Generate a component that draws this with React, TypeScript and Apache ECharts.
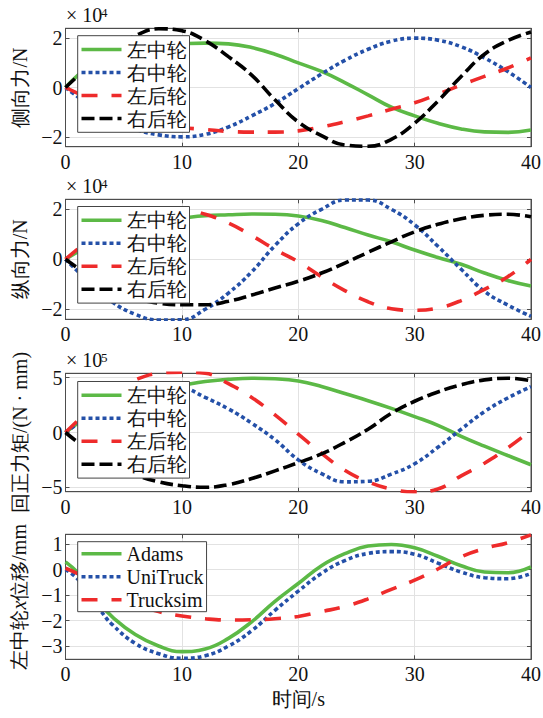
import React, { useEffect, useRef } from "react";
import * as echarts from "echarts";

const FONT = "Liberation Serif";

// time axes (s)
const T = [0, 2, 4, 6, 8, 10, 12, 14, 16, 18, 20, 22, 24, 26, 28, 30, 32, 34, 36, 38, 40];
const T4 = [0, 1, 2, 3, 4, 6, 8, 10, 12, 14, 16, 18, 20, 22, 24, 26, 28, 30, 32, 34, 36, 38, 40];

// Panel 1: 侧向力 (×10^4 N)
const latLM = [0, 0.85, 1.35, 1.6, 1.72, 1.77, 1.8, 1.77, 1.62, 1.35, 1.0, 0.65, 0.2, -0.3, -0.8, -1.15, -1.45, -1.68, -1.8, -1.82, -1.72];
const latRM = [0, -0.7, -1.3, -1.7, -1.92, -2.0, -1.9, -1.6, -1.15, -0.65, -0.05, 0.55, 1.1, 1.55, 1.88, 2.0, 1.92, 1.65, 1.2, 0.65, 0.0];
const latLR = [0, -0.45, -0.9, -1.25, -1.48, -1.62, -1.7, -1.78, -1.81, -1.81, -1.76, -1.6, -1.39, -1.15, -0.88, -0.62, -0.27, 0.1, 0.45, 0.79, 1.2];
const latRR = [0, 0.85, 1.55, 2.1, 2.38, 2.3, 1.9, 1.25, 0.5, -0.5, -1.4, -1.95, -2.33, -2.38, -2.1, -1.45, -0.55, 0.45, 1.35, 1.9, 2.25];

// Panel 2: 纵向力 (×10^4 N)
const lonLM = [0, 0.55, 1.0, 1.35, 1.55, 1.65, 1.74, 1.78, 1.81, 1.8, 1.73, 1.55, 1.27, 0.97, 0.7, 0.37, 0.07, -0.2, -0.55, -0.85, -1.07];
const lonRM = [0, -0.9, -1.7, -2.2, -2.43, -2.42, -2.0, -1.35, -0.5, 0.55, 1.42, 2.0, 2.37, 2.37, 2.0, 1.38, 0.52, -0.4, -1.28, -1.83, -2.28];
const lonLR = [0, 0.75, 1.35, 1.75, 1.97, 2.02, 1.8, 1.45, 0.95, 0.4, -0.1, -0.7, -1.25, -1.7, -1.98, -2.04, -1.95, -1.65, -1.2, -0.7, 0.0];
const lonRR = [0, -0.65, -1.2, -1.55, -1.75, -1.82, -1.82, -1.68, -1.43, -1.15, -0.88, -0.55, -0.15, 0.28, 0.7, 1.1, 1.4, 1.62, 1.76, 1.8, 1.7];

// Panel 3: 回正力矩 (×10^5 N·mm)
const aliLM = [0, 1.5, 2.6, 3.4, 3.95, 4.3, 4.65, 4.85, 4.95, 4.9, 4.7, 4.2, 3.55, 2.9, 2.2, 1.45, 0.65, -0.35, -1.25, -2.1, -2.94];
const aliRM = [0, 1.5, 2.9, 3.9, 4.35, 4.15, 3.2, 2.15, 0.85, -0.65, -2.5, -3.75, -4.5, -4.45, -3.8, -2.85, -1.35, 0.3, 1.9, 3.15, 4.18];
const aliLR = [0, 2.0, 3.7, 4.8, 5.4, 5.5, 5.4, 4.45, 3.2, 1.6, -0.15, -1.9, -3.45, -4.5, -5.15, -5.42, -5.15, -3.95, -2.8, -1.4, 0.2];
const aliRR = [0, -1.6, -2.8, -3.85, -4.5, -4.85, -5.0, -4.75, -4.2, -3.5, -2.75, -1.95, -0.9, 0.3, 1.75, 2.85, 3.7, 4.35, 4.8, 4.95, 4.73];

// Panel 4: 左中轮x位移 (mm)
const dispAdams = [0.3, -0.1, -0.7, -1.35, -1.85, -2.55, -3.0, -3.22, -3.12, -2.7, -2.05, -1.25, -0.55, 0.15, 0.62, 0.92, 0.98, 0.85, 0.52, 0.15, -0.1, -0.13, 0.1];
const dispUni = [0, -0.35, -0.95, -1.6, -2.15, -2.9, -3.3, -3.48, -3.38, -3.0, -2.4, -1.6, -0.85, -0.15, 0.35, 0.63, 0.7, 0.6, 0.25, -0.1, -0.32, -0.36, -0.16];
const dispTruck = [0.05, -0.15, -0.4, -0.65, -0.9, -1.35, -1.65, -1.82, -1.93, -1.98, -1.97, -1.93, -1.84, -1.65, -1.45, -1.15, -0.78, -0.42, 0.02, 0.5, 0.82, 1.05, 1.36];

const WHEEL_NAMES = ["左中轮", "右中轮", "左后轮", "右后轮"];
const DISP_NAMES = ["Adams", "UniTruck", "Trucksim"];

const X_TICK_MIN = 0;
const X_TICK_MAX = 40;
const X_TICK_STEP = 10;
const Y_TICKS_FORCE = [-2, 0, 2];
const Y_TICKS_ALIGN = [-5, 0, 5];
const Y_TICKS_DISP = [-3, -2, -1, 0, 1];

const EXPONENTS = ["4", "4", "5"];

const STYLES = [
  { color: "#5cb946", type: "solid" as any, width: 3.6 },
  { color: "#2450a8", type: [4, 3] as any, width: 3.6 },
  { color: "#ee2b2b", type: [16, 14] as any, width: 3.6 },
  { color: "#000000", type: [13, 5] as any, width: 3.6 },
];

const PANELS = [
  { top: 28.3, height: 118.4, min: -2.4, max: 2.4, ticks: Y_TICKS_FORCE, name: "侧向力/N", nameGap: 30.5, legendTop: 35.7, x: T, data: [latLM, latRM, latLR, latRR], names: WHEEL_NAMES },
  { top: 199.3, height: 120, min: -2.4, max: 2.4, ticks: Y_TICKS_FORCE, name: "纵向力/N", nameGap: 30.5, legendTop: 206.5, x: T, data: [lonLM, lonRM, lonLR, lonRR], names: WHEEL_NAMES },
  { top: 373.3, height: 118.4, min: -5.4, max: 5.4, ticks: Y_TICKS_ALIGN, name: "回正力矩/(N · mm)", nameGap: 34.5, legendTop: 381.5, x: T, data: [aliLM, aliRM, aliLR, aliRR], names: WHEEL_NAMES },
  { top: 534.3, height: 125, min: -3.52, max: 1.38, ticks: Y_TICKS_DISP, name: "左中轮{i|x}位移/mm", nameGap: 36.5, legendTop: 541.7, x: T4, data: [dispAdams, dispUni, dispTruck], names: DISP_NAMES },
];

const AXIS_COLOR = "#4d4d4d";
const GRID_COLOR = "#e2e2e2";
const TEXT_COLOR = "#111111";
const LEFT = 65.5;
const RIGHT = 12;

const fmt = (v: number) => String(v).replace("-", "−");

function buildOption() {
  const grid: any[] = [];
  const xAxis: any[] = [];
  const yAxis: any[] = [];
  const series: any[] = [];
  const legend: any[] = [];
  const graphic: any[] = [];

  const labelStyle = { fontSize: 20, fontFamily: FONT, color: TEXT_COLOR, fontWeight: "normal" as any };

  PANELS.forEach((p, i) => {
    grid.push({
      left: LEFT, right: RIGHT, top: p.top, height: p.height,
      containLabel: false, outerBoundsMode: "none",
      show: true, borderColor: AXIS_COLOR, borderWidth: 1, backgroundColor: "transparent",
    });
    const isLast = i === PANELS.length - 1;
    xAxis.push({
      type: "value", gridIndex: i, min: X_TICK_MIN, max: X_TICK_MAX, interval: X_TICK_STEP,
      position: "bottom",
      axisLine: { show: true, onZero: false, lineStyle: { color: AXIS_COLOR, width: 1 } },
      axisTick: { show: true, inside: true, length: 4, lineStyle: { color: AXIS_COLOR } },
      axisLabel: { show: true, ...labelStyle, margin: 5 },
      splitLine: { show: true, lineStyle: { color: GRID_COLOR, width: 1 } },
      name: isLast ? "时间/s" : "",
      nameLocation: "middle",
      nameGap: 30,
      nameTextStyle: { ...labelStyle, lineHeight: 20 },
    });
    xAxis.push({
      type: "value", gridIndex: i, min: X_TICK_MIN, max: X_TICK_MAX, interval: X_TICK_STEP,
      position: "top",
      axisLine: { show: true, onZero: false, lineStyle: { color: AXIS_COLOR, width: 1 } },
      axisTick: { show: true, inside: true, length: 4, lineStyle: { color: AXIS_COLOR } },
      axisLabel: { show: false },
      splitLine: { show: false },
    });
    yAxis.push({
      type: "value", gridIndex: i, min: p.min, max: p.max, position: "left",
      axisLine: { show: true, onZero: false, lineStyle: { color: AXIS_COLOR, width: 1 } },
      axisTick: { show: true, inside: true, length: 4, lineStyle: { color: AXIS_COLOR }, customValues: p.ticks },
      axisLabel: { show: true, ...labelStyle, margin: 3, customValues: p.ticks, formatter: fmt },
      splitLine: { show: true, lineStyle: { color: GRID_COLOR, width: 1 } },
      name: p.name,
      nameLocation: "middle",
      nameGap: p.nameGap,
      nameRotate: 90,
      nameTextStyle: {
        ...labelStyle, lineHeight: 20,
        rich: { i: { ...labelStyle, fontStyle: "italic", lineHeight: 20 } },
      },
    });
    yAxis.push({
      type: "value", gridIndex: i, min: p.min, max: p.max, position: "right",
      axisLine: { show: true, onZero: false, lineStyle: { color: AXIS_COLOR, width: 1 } },
      axisTick: { show: true, inside: true, length: 4, lineStyle: { color: AXIS_COLOR }, customValues: p.ticks },
      axisLabel: { show: false, customValues: p.ticks },
      splitLine: { show: false },
    });

    p.data.forEach((vals, k) => {
      series.push({
        type: "line",
        name: p.names[k],
        xAxisIndex: 2 * i,
        yAxisIndex: 2 * i,
        data: p.x.map((t, j) => [t, vals[j]]),
        showSymbol: false,
        symbol: "none",
        smooth: 0.45,
        clip: true,
        lineStyle: { ...STYLES[k] },
        itemStyle: { color: STYLES[k].color },
        silent: true,
      });
    });

    legend.push({
      show: true,
      orient: "vertical",
      left: 77.7,
      top: p.legendTop,
      itemWidth: 40,
      itemHeight: 14,
      itemGap: 3,
      padding: i === 3 ? [2, 3, 2, 2] : [3.8, 3, 3.8, 2],
      backgroundColor: "#ffffff",
      borderColor: "#444",
      borderWidth: 1,
      borderRadius: 0,
      selectedMode: false,
      data: p.names,
      itemStyle: { color: "rgba(0,0,0,0)", borderColor: "rgba(0,0,0,0)", borderWidth: 0, opacity: 0 },
      lineStyle: { width: 3.6 },
      textStyle: { fontSize: 20, lineHeight: 20, fontFamily: FONT, color: TEXT_COLOR },
      z: 10,
    });

    if (i < 3) {
      graphic.push({
        type: "text", left: 66, top: p.top - 23,
        style: { text: "× 10", font: "normal 20px Liberation Serif", fill: TEXT_COLOR },
      });
      graphic.push({
        type: "text", left: 101, top: p.top - 22,
        style: { text: EXPONENTS[i], font: "normal 13px Liberation Serif", fill: TEXT_COLOR },
      });
    }
  });

  return {
    animation: false,
    backgroundColor: "#ffffff",
    textStyle: { fontFamily: FONT },
    grid, xAxis, yAxis, series, legend, graphic,
  };
}

export default function App() {
  const ref = useRef<HTMLDivElement | null>(null);
  useEffect(() => {
    if (!ref.current) return;
    const chart = echarts.init(ref.current, undefined, { renderer: "svg" });
    chart.setOption(buildOption() as any);
    return () => chart.dispose();
  }, []);
  return (
    <div
      ref={ref}
      style={{ position: "fixed", left: 0, top: 0, width: 543, height: 718, background: "#fff" }}
    />
  );
}
